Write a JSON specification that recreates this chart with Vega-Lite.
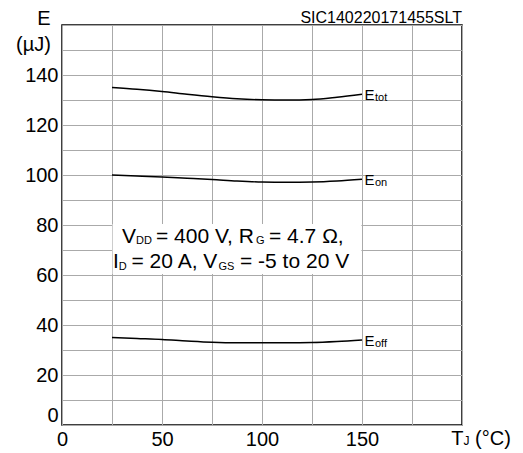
{
  "$schema": "https://vega.github.io/schema/vega-lite/v6.json",
  "width": 400,
  "height": 400,
  "autosize": "none",
  "padding": {"left": 62, "top": 25, "right": 61, "bottom": 28},
  "config": {
    "font": "Liberation Sans",
    "view": {"stroke": "#000000", "strokeWidth": 1.5},
    "axis": {
      "domain": false,
      "ticks": false,
      "gridColor": "#aaaaaa",
      "gridWidth": 1,
      "gridOpacity": 1,
      "labelFontSize": 20,
      "labelColor": "#000000",
      "labelOverlap": false,
      "title": null
    },
    "text": {"color": "#000000"}
  },
  "encoding": {
    "x": {
      "field": "T",
      "type": "quantitative",
      "scale": {"domain": [0, 200], "nice": false},
      "axis": {
        "values": [0, 25, 50, 75, 100, 125, 150, 175, 200],
        "labelExpr": "datum.value % 50 == 0 && datum.value < 200 ? datum.label : ''",
        "labelPadding": 4,
        "labelFlush": false
      }
    },
    "y": {
      "field": "E",
      "type": "quantitative",
      "scale": {"domain": [0, 160], "nice": false},
      "axis": {
        "values": [0, 10, 20, 30, 40, 50, 60, 70, 80, 90, 100, 110, 120, 130, 140, 150, 160],
        "labelExpr": "datum.value % 20 == 0 && datum.value < 160 ? datum.label : ''",
        "labelPadding": 4,
        "labelFlush": true,
        "labelFlushOffset": 0
      }
    }
  },
  "datasets": {
    "curves": [
      {"curve": "tot", "T": 25, "E": 135},
      {"curve": "tot", "T": 37.5, "E": 134.3},
      {"curve": "tot", "T": 50, "E": 133.4},
      {"curve": "tot", "T": 62.5, "E": 132.3},
      {"curve": "tot", "T": 75, "E": 131.3},
      {"curve": "tot", "T": 87.5, "E": 130.5},
      {"curve": "tot", "T": 100, "E": 130.1},
      {"curve": "tot", "T": 112.5, "E": 130},
      {"curve": "tot", "T": 125, "E": 130.2},
      {"curve": "tot", "T": 137.5, "E": 131.1},
      {"curve": "tot", "T": 150, "E": 132.3},
      {"curve": "on", "T": 25, "E": 100},
      {"curve": "on", "T": 37.5, "E": 99.6},
      {"curve": "on", "T": 50, "E": 99.2},
      {"curve": "on", "T": 62.5, "E": 98.7},
      {"curve": "on", "T": 75, "E": 98.2},
      {"curve": "on", "T": 87.5, "E": 97.6},
      {"curve": "on", "T": 100, "E": 97.2},
      {"curve": "on", "T": 112.5, "E": 97.1},
      {"curve": "on", "T": 125, "E": 97.2},
      {"curve": "on", "T": 137.5, "E": 97.6},
      {"curve": "on", "T": 150, "E": 98.3},
      {"curve": "off", "T": 25, "E": 35},
      {"curve": "off", "T": 37.5, "E": 34.6},
      {"curve": "off", "T": 50, "E": 34.2},
      {"curve": "off", "T": 62.5, "E": 33.6},
      {"curve": "off", "T": 75, "E": 33.1},
      {"curve": "off", "T": 87.5, "E": 32.9},
      {"curve": "off", "T": 100, "E": 32.9},
      {"curve": "off", "T": 112.5, "E": 32.9},
      {"curve": "off", "T": 125, "E": 33},
      {"curve": "off", "T": 137.5, "E": 33.4},
      {"curve": "off", "T": 150, "E": 34}
    ],
    "line1": [{"T": 25, "E": 72.9}],
    "line2": [{"T": 25, "E": 62.8}],
    "xtitle": [{"T": 200, "E": 0}],
    "ytitle": [{"T": 0, "E": 160}],
    "corner": [{"T": 200, "E": 160}]
  },
  "layer": [
    {
      "data": {"values": [{"T": 25.3, "T2": 149.7, "E": 60.4, "E2": 80.4}]},
      "mark": {"type": "rect", "fill": "#ffffff"},
      "encoding": {"x2": {"field": "T2"}, "y2": {"field": "E2"}}
    },
    {
      "data": {"name": "curves"},
      "mark": {"type": "line", "color": "#000000", "strokeWidth": 1.4, "interpolate": "monotone"},
      "encoding": {"detail": {"field": "curve"}}
    },
    {
      "data": {"name": "curves"},
      "transform": [{"filter": "datum.T == 150"}],
      "mark": {"type": "text", "text": "E", "align": "left", "baseline": "alphabetic", "dx": 2.5, "dy": 5.5, "fontSize": 15}
    },
    {
      "data": {"name": "curves"},
      "transform": [{"filter": "datum.T == 150"}],
      "mark": {"type": "text", "align": "left", "baseline": "alphabetic", "dx": 13, "dy": 6.5, "fontSize": 11}
      ,"encoding": {"text": {"field": "curve"}}
    },
    {"data": {"name": "line1"}, "mark": {"type": "text", "text": "V", "align": "left", "baseline": "alphabetic", "dx": 10, "fontSize": 21}},
    {"data": {"name": "line1"}, "mark": {"type": "text", "text": "DD", "align": "left", "baseline": "alphabetic", "dx": 24, "dy": 1.5, "fontSize": 11}},
    {"data": {"name": "line1"}, "mark": {"type": "text", "text": "= 400 V, R", "align": "left", "baseline": "alphabetic", "dx": 44, "fontSize": 21}},
    {"data": {"name": "line1"}, "mark": {"type": "text", "text": "G", "align": "left", "baseline": "alphabetic", "dx": 144, "dy": 1.5, "fontSize": 11}},
    {"data": {"name": "line1"}, "mark": {"type": "text", "text": "= 4.7 Ω,", "align": "left", "baseline": "alphabetic", "dx": 157, "fontSize": 21}},
    {"data": {"name": "line2"}, "mark": {"type": "text", "text": "I", "align": "left", "baseline": "alphabetic", "dx": 1, "fontSize": 21}},
    {"data": {"name": "line2"}, "mark": {"type": "text", "text": "D", "align": "left", "baseline": "alphabetic", "dx": 6.8, "dy": 1.5, "fontSize": 11}},
    {"data": {"name": "line2"}, "mark": {"type": "text", "text": "= 20 A, V", "align": "left", "baseline": "alphabetic", "dx": 19.5, "fontSize": 21}},
    {"data": {"name": "line2"}, "mark": {"type": "text", "text": "GS", "align": "left", "baseline": "alphabetic", "dx": 106.5, "dy": 1.5, "fontSize": 11}},
    {"data": {"name": "line2"}, "mark": {"type": "text", "text": "= -5 to 20 V", "align": "left", "baseline": "alphabetic", "dx": 128, "fontSize": 21}},
    {"data": {"name": "xtitle"}, "mark": {"type": "text", "text": "T", "align": "left", "baseline": "alphabetic", "dx": -10.7, "dy": 20, "fontSize": 20}},
    {"data": {"name": "xtitle"}, "mark": {"type": "text", "text": "J", "align": "left", "baseline": "alphabetic", "dx": 1.5, "dy": 20, "fontSize": 12}},
    {"data": {"name": "xtitle"}, "mark": {"type": "text", "text": "(°C)", "align": "left", "baseline": "alphabetic", "dx": 13.1, "dy": 20, "fontSize": 20}},
    {"data": {"name": "ytitle"}, "mark": {"type": "text", "text": "E", "align": "center", "baseline": "alphabetic", "dx": -18, "dy": 0, "fontSize": 20}},
    {"data": {"name": "ytitle"}, "mark": {"type": "text", "text": "(µJ)", "align": "center", "baseline": "alphabetic", "dx": -28.5, "dy": 26, "fontSize": 20}},
    {"data": {"name": "corner"}, "mark": {"type": "text", "text": "SIC140220171455SLT", "align": "right", "baseline": "alphabetic", "dy": -2.3, "fontSize": 16}}
  ]
}
